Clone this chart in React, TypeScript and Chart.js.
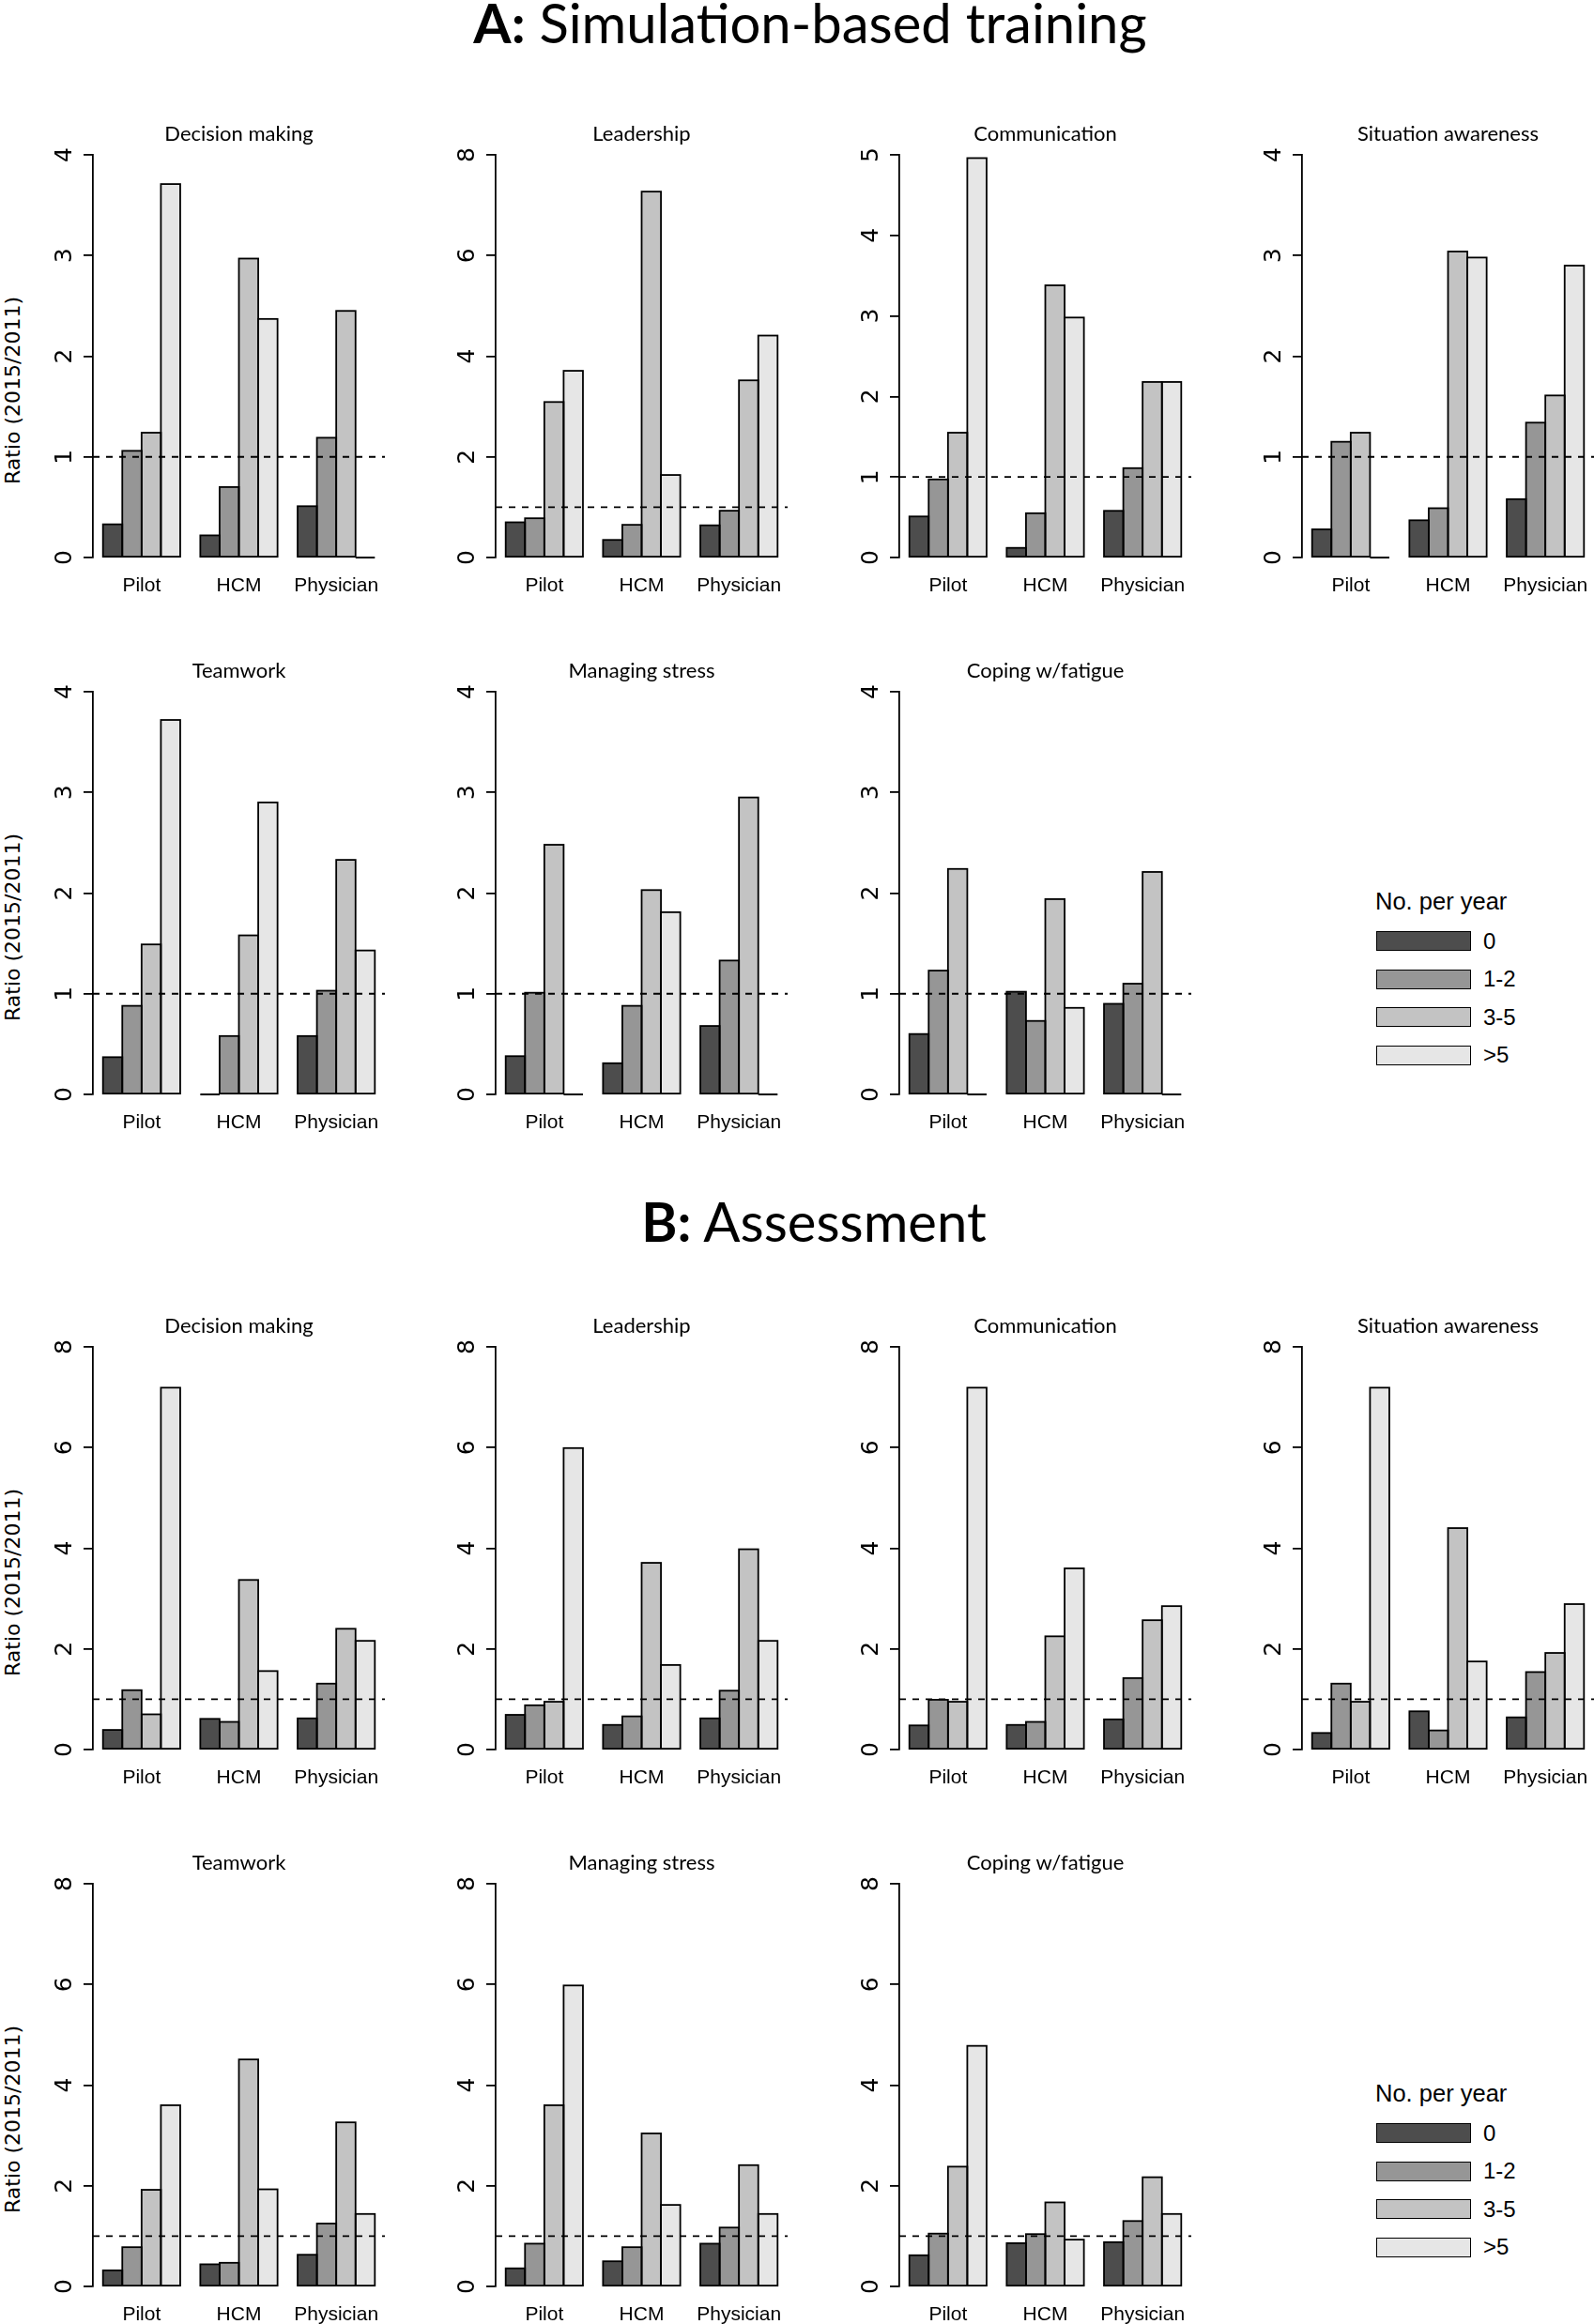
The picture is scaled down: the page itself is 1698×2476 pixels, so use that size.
import React, { useEffect, useRef } from 'react';
import { Chart, registerables } from 'chart.js';

Chart.register(...registerables);

// ---------- data ----------
const categories = ['Pilot', 'HCM', 'Physician'];
const seriesLabels = ['0', '1-2', '3-5', '>5'];
const seriesColors = ['#4D4D4D', '#969696', '#C3C3C3', '#E6E6E6'];
const panelTitles = [
  'Decision making',
  'Leadership',
  'Communication',
  'Situation awareness',
  'Teamwork',
  'Managing stress',
  'Coping w/fatigue',
];
const referenceRatio = 1;

// rows: series 0, 1-2, 3-5, >5 ; columns: Pilot, HCM, Physician
// A: Simulation-based training
const simDecisionMaking = [
  [0.33, 0.22, 0.51],
  [1.06, 0.7, 1.19],
  [1.24, 2.97, 2.45],
  [3.71, 2.37, 0],
];
const simLeadership = [
  [0.7, 0.35, 0.64],
  [0.78, 0.65, 0.93],
  [3.09, 7.27, 3.52],
  [3.71, 1.64, 4.41],
];
const simCommunication = [
  [0.51, 0.12, 0.58],
  [0.97, 0.55, 1.11],
  [1.55, 3.38, 2.18],
  [4.96, 2.98, 2.18],
];
const simSituationAwareness = [
  [0.28, 0.37, 0.58],
  [1.15, 0.49, 1.34],
  [1.24, 3.04, 1.61],
  [0, 2.98, 2.9],
];
const simTeamwork = [
  [0.37, 0, 0.58],
  [0.88, 0.58, 1.03],
  [1.49, 1.58, 2.33],
  [3.72, 2.9, 1.43],
];
const simManagingStress = [
  [0.38, 0.31, 0.68],
  [1.01, 0.88, 1.33],
  [2.48, 2.03, 2.95],
  [0, 1.81, 0],
];
const simCopingFatigue = [
  [0.6, 1.02, 0.9],
  [1.23, 0.73, 1.1],
  [2.24, 1.94, 2.21],
  [0, 0.86, 0],
];
const simYMax = [4, 8, 5, 4, 4, 4, 4];
const simYStep = [1, 2, 1, 1, 1, 1, 1];

// B: Assessment
const asDecisionMaking = [
  [0.39, 0.61, 0.62],
  [1.18, 0.55, 1.31],
  [0.7, 3.37, 2.4],
  [7.19, 1.56, 2.16],
];
const asLeadership = [
  [0.69, 0.49, 0.62],
  [0.88, 0.66, 1.17],
  [0.95, 3.71, 3.98],
  [5.99, 1.68, 2.16],
];
const asCommunication = [
  [0.48, 0.49, 0.6],
  [0.99, 0.55, 1.42],
  [0.95, 2.25, 2.57],
  [7.19, 3.6, 2.85],
];
const asSituationAwareness = [
  [0.33, 0.76, 0.64],
  [1.31, 0.38, 1.54],
  [0.95, 4.4, 1.92],
  [7.19, 1.75, 2.89],
];
const asTeamwork = [
  [0.32, 0.44, 0.63],
  [0.78, 0.47, 1.25],
  [1.92, 4.51, 3.26],
  [3.6, 1.93, 1.44],
];
const asManagingStress = [
  [0.36, 0.5, 0.85],
  [0.85, 0.78, 1.17],
  [3.6, 3.04, 2.41],
  [5.98, 1.62, 1.44],
];
const asCopingFatigue = [
  [0.62, 0.86, 0.88],
  [1.05, 1.04, 1.3],
  [2.38, 1.67, 2.17],
  [4.78, 0.93, 1.44],
];
const asYMax = [8, 8, 8, 8, 8, 8, 8];
const asYStep = [2, 2, 2, 2, 2, 2, 2];

const simPanels = [
  simDecisionMaking,
  simLeadership,
  simCommunication,
  simSituationAwareness,
  simTeamwork,
  simManagingStress,
  simCopingFatigue,
];
const asPanels = [
  asDecisionMaking,
  asLeadership,
  asCommunication,
  asSituationAwareness,
  asTeamwork,
  asManagingStress,
  asCopingFatigue,
];

// ---------- layout ----------
const COL_AXIS_X = [99, 528, 958, 1387];
const ROW_TOP = [165, 737, 1435, 2007];
const PLOT_W = 311;
const PLOT_H = 429;
const YAXIS_W = 70;
const TITLE_H = 45;
const XAXIS_H = 52;
const RIGHT_PAD = 20;
const LINE_W = 1.8;
const TICK_FONT = 25;
const TICK_LABEL_OFFSET = 29;

const rOutlinePlugin = {
  id: 'rOutline',
  afterDatasetsDraw(chart: any) {
    const ctx = chart.ctx;
    ctx.save();
    ctx.strokeStyle = '#000';
    ctx.lineWidth = LINE_W;
    chart.data.datasets.forEach((_ds: any, i: number) => {
      const meta = chart.getDatasetMeta(i);
      meta.data.forEach((bar: any) => {
        const { x, y, base, width } = bar.getProps(['x', 'y', 'base', 'width'], true);
        ctx.strokeRect(x - width / 2, Math.min(y, base), width, Math.abs(base - y));
      });
    });
    const yPix = chart.scales.y.getPixelForValue(referenceRatio);
    ctx.setLineDash([7, 7]);
    ctx.beginPath();
    ctx.moveTo(chart.chartArea.left, yPix);
    ctx.lineTo(chart.chartArea.right, yPix);
    ctx.stroke();
    ctx.restore();
  },
};

function Panel(props: { title: string; data: number[][]; yMax: number; yStep: number; axisX: number; top: number }) {
  const ref = useRef<HTMLCanvasElement>(null);
  const { title, data, yMax, yStep, axisX, top } = props;
  const w = YAXIS_W + PLOT_W + RIGHT_PAD;
  const h = TITLE_H + PLOT_H + XAXIS_H;
  useEffect(() => {
    if (!ref.current) return;
    const chart = new Chart(ref.current, {
      type: 'bar',
      data: {
        labels: categories,
        datasets: data.map((vals, i) => ({
          label: seriesLabels[i],
          data: vals,
          backgroundColor: seriesColors[i],
          borderWidth: 0,
          categoryPercentage: 0.7937,
          barPercentage: 1,
        })),
      },
      options: {
        responsive: false,
        animation: false,
        devicePixelRatio: 1,
        events: [],
        layout: { padding: { left: 0, right: RIGHT_PAD, top: 0, bottom: 0 } },
        plugins: {
          legend: { display: false },
          tooltip: { enabled: false },
          title: {
            display: true,
            text: title,
            fullSize: false,
            color: '#000',
            font: { family: 'Lato', size: 22, weight: 'normal', lineHeight: 1 },
            padding: { top: 12, bottom: 11 },
          },
        },
        scales: {
          x: {
            type: 'category',
            offset: true,
            grid: { display: false, drawTicks: false, tickLength: 0 },
            border: { display: false },
            ticks: {
              color: '#000',
              font: { family: 'Liberation Sans', size: 21 },
              padding: 18,
              maxRotation: 0,
              autoSkip: false,
            },
            afterFit: (s: any) => {
              s.height = XAXIS_H;
            },
          },
          y: {
            type: 'linear',
            min: 0,
            max: yMax,
            ticks: {
              stepSize: yStep,
              color: '#000',
              font: { family: 'DejaVu Sans', size: TICK_FONT },
              minRotation: 90,
              maxRotation: 90,
              crossAlign: 'center',
              padding: TICK_LABEL_OFFSET - 10 - (0.636 * TICK_FONT) / 2,
            },
            grid: {
              drawOnChartArea: false,
              drawTicks: true,
              tickLength: 10,
              color: '#000',
              lineWidth: LINE_W,
            },
            border: { display: true, color: '#000', width: LINE_W },
            afterFit: (s: any) => {
              s.width = YAXIS_W;
            },
          },
        },
      } as any,
      plugins: [rOutlinePlugin],
    });
    return () => chart.destroy();
  }, []);
  return (
    <canvas
      ref={ref}
      width={w}
      height={h}
      style={{ position: 'absolute', left: axisX - YAXIS_W, top: top - TITLE_H, width: w, height: h }}
    />
  );
}

function YLabel(props: { y: number }) {
  return (
    <div
      style={{
        position: 'absolute',
        left: 14,
        top: props.y,
        transform: 'translate(-50%, -50%) rotate(-90deg)',
        whiteSpace: 'nowrap',
        fontFamily: '"DejaVu Sans"',
        fontSize: 22,
        lineHeight: '22px',
        color: '#000',
      }}
    >
      Ratio (2015/2011)
    </div>
  );
}

function Legend(props: { boxTop: number }) {
  const { boxTop } = props;
  const left = 1466;
  return (
    <>
      <div
        style={{
          position: 'absolute',
          left: left - 1,
          top: boxTop - 31 - 13,
          fontFamily: '"Liberation Sans"',
          fontSize: 25.5,
          lineHeight: '25.5px',
          whiteSpace: 'nowrap',
          color: '#000',
        }}
      >
        No. per year
      </div>
      {seriesLabels.map((lab, i) => {
        const t = boxTop + i * 40.5;
        return (
          <React.Fragment key={lab}>
            <div
              style={{
                position: 'absolute',
                left,
                top: t,
                width: 101,
                height: 21,
                boxSizing: 'border-box',
                border: `${LINE_W}px solid #000`,
                background: seriesColors[i],
              }}
            />
            <div
              style={{
                position: 'absolute',
                left: 1580,
                top: t + 10.5 - 12,
                fontFamily: '"Liberation Sans"',
                fontSize: 24,
                lineHeight: '24px',
                whiteSpace: 'nowrap',
                color: '#000',
              }}
            >
              {lab}
            </div>
          </React.Fragment>
        );
      })}
    </>
  );
}

function Heading(props: { bold: string; rest: string; cx: number; cy: number }) {
  const fs = 58;
  return (
    <div
      style={{
        position: 'absolute',
        left: props.cx,
        top: props.cy - 0.529 * fs,
        transform: 'translateX(-50%)',
        whiteSpace: 'nowrap',
        fontFamily: 'Lato',
        fontSize: fs,
        lineHeight: `${fs}px`,
        color: '#000',
      }}
    >
      <span style={{ fontWeight: 700 }}>{props.bold}</span> {props.rest}
    </div>
  );
}

export default function App() {
  const panels: any[] = [];
  simPanels.forEach((d, i) => {
    const row = Math.floor(i / 4);
    const col = i % 4;
    panels.push(
      <Panel
        key={`sim${i}`}
        title={panelTitles[i]}
        data={d}
        yMax={simYMax[i]}
        yStep={simYStep[i]}
        axisX={COL_AXIS_X[col]}
        top={ROW_TOP[row]}
      />
    );
  });
  asPanels.forEach((d, i) => {
    const row = 2 + Math.floor(i / 4);
    const col = i % 4;
    panels.push(
      <Panel
        key={`as${i}`}
        title={panelTitles[i]}
        data={d}
        yMax={asYMax[i]}
        yStep={asYStep[i]}
        axisX={COL_AXIS_X[col]}
        top={ROW_TOP[row]}
      />
    );
  });
  return (
    <div
      style={{
        position: 'absolute',
        left: 0,
        top: 0,
        width: 1698,
        height: 2476,
        overflow: 'hidden',
        background: '#fff',
      }}
    >
      <Heading bold="A:" rest="Simulation-based training" cx={863} cy={26} />
      <Heading bold="B:" rest="Assessment" cx={867} cy={1303} />
      {panels}
      {ROW_TOP.map((t) => (
        <YLabel key={t} y={t + 251} />
      ))}
      <Legend boxTop={ROW_TOP[1] + 255} />
      <Legend boxTop={ROW_TOP[3] + 255} />
    </div>
  );
}
